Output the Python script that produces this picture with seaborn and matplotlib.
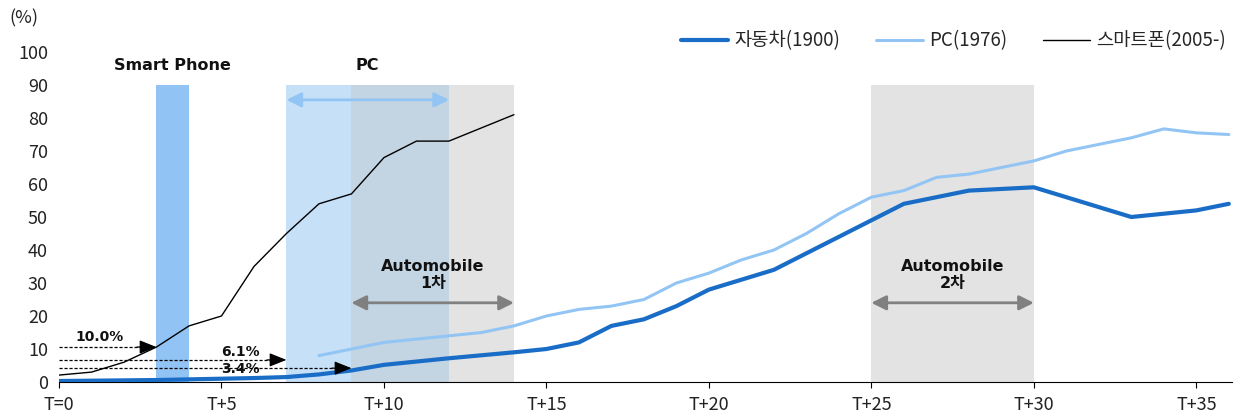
import numpy as np
import pandas as pd
import matplotlib
matplotlib.use("Agg")
import matplotlib.pyplot as plt
import seaborn as sns

# data (x = years after introduction, y = %)
car_t = list(range(0, 37))
car_val = [0.3, 0.4, 0.5, 0.6, 0.8, 1.0, 1.2, 1.5, 2.3, 3.5, 5.2, 6.2, 7.2, 8.1, 9.0, 10.0,
           12.0, 17.0, 19.0, 23.0, 28.0, 31.0, 34.0, 39.0, 44.0, 49.0, 54.0, 56.0, 58.0,
           58.5, 59.0, 56.0, 53.0, 50.0, 51.0, 52.0, 54.0]
pc_t = list(range(8, 37))
pc_val = [8.0, 10.0, 12.0, 13.0, 14.0, 15.0, 17.0, 20.0, 22.0, 23.0, 25.0, 30.0, 33.0, 37.0,
          40.0, 45.0, 51.0, 56.0, 58.0, 62.0, 63.0, 65.0, 67.0, 70.0, 72.0, 74.0, 76.7, 75.5, 75.0]
phone_t = list(range(0, 15))
phone_val = [2.1, 3.0, 6.0, 10.6, 17.0, 20.0, 35.0, 45.0, 54.0, 57.0, 68.0, 73.0, 73.0, 77.0, 81.0]

series_names = ["자동차(1900)", "PC(1976)", "스마트폰(2005-)"]
x_ticks = [0, 5, 10, 15, 20, 25, 30, 35]
x_labels = ["T=0", "T+5", "T+10", "T+15", "T+20", "T+25", "T+30", "T+35"]

# reference lines for how far each product had spread
ref_levels = [10.6, 6.7, 4.2]
ref_ends = [3, 7, 9]
ref_labels = ["10.0%", "6.1%", "3.4%"]

df = pd.concat([
    pd.DataFrame({"t": car_t, "v": car_val, "s": series_names[0]}),
    pd.DataFrame({"t": pc_t, "v": pc_val, "s": series_names[1]}),
    pd.DataFrame({"t": phone_t, "v": phone_val, "s": series_names[2]}),
])

sns.set_style("white")
plt.rcParams['font.family'] = ['Noto Sans CJK KR', 'DejaVu Sans']

fig = plt.figure(figsize=(12.42, 4.16), dpi=100)
ax = fig.add_axes([0.0475, 0.0817, 0.9445, 0.7933])

# shaded periods
ax.fill_between([3, 4], 0, 90, color="#91c4f5", lw=0, zorder=0)
ax.fill_between([7, 9], 0, 90, color="#c6e0f8", lw=0, zorder=0)
ax.fill_between([9, 12], 0, 90, color="#c3d4e2", lw=0, zorder=0)
ax.fill_between([12, 14], 0, 90, color="#e3e3e3", lw=0, zorder=0)
ax.fill_between([25, 30], 0, 90, color="#e3e3e3", lw=0, zorder=0)

palette = {series_names[0]: "#1a6dc6", series_names[1]: "#93c5f4", series_names[2]: "black"}
sizes = {series_names[0]: 3.0, series_names[1]: 2.2, series_names[2]: 1.0}
sns.lineplot(data=df, x="t", y="v", hue="s", size="s", sizes=sizes, palette=palette,
             hue_order=series_names, size_order=series_names, ax=ax, zorder=3)

# period arrows
def double_arrow(x0, x1, y, color):
    ax.annotate("", xy=(x0, y), xytext=(x1, y),
                arrowprops=dict(arrowstyle="<|-|>", color=color, lw=2,
                                mutation_scale=22, shrinkA=0, shrinkB=0), zorder=4)

double_arrow(7, 12, 85.5, "#93c5f4")
double_arrow(9, 14, 24, "#808080")
double_arrow(25, 30, 24, "#808080")

bold = dict(fontweight="bold", fontsize=11.5, ha="center", color="#111111",
            family=["DejaVu Sans", "Noto Sans CJK KR"])
ax.text(3.5, 94.5, "Smart Phone", **bold)
ax.text(9.5, 94.5, "PC", **bold)
ax.text(11.5, 28.5, "Automobile\n1차", linespacing=1.2, **bold)
ax.text(27.5, 28.5, "Automobile\n2차", linespacing=1.2, **bold)

# dashed reference arrows
for lvl, end in zip(ref_levels, ref_ends):
    ax.plot([0, end - 0.5], [lvl, lvl], ls=(0, (2.5, 1.5)), color="black", lw=0.9, zorder=5)
    ax.annotate("", xy=(end, lvl), xytext=(end - 0.6, lvl),
                arrowprops=dict(arrowstyle="-|>,head_length=0.55,head_width=0.22", color="black",
                                lw=0.9, mutation_scale=19, shrinkA=0, shrinkB=0), zorder=5)
pct = dict(fontweight="bold", fontsize=10, family="DejaVu Sans", color="#111111")
ax.text(0.5, 12.3, ref_labels[0], **pct)
ax.text(5.0, 7.8, ref_labels[1], **pct)
ax.text(5.0, 2.6, ref_labels[2], **pct)

ax.set_xlim(0, 36.1)
ax.set_ylim(0, 100)
ax.set_xticks(x_ticks)
ax.set_xticklabels(x_labels)
ax.set_yticks(range(0, 101, 10))
ax.tick_params(axis="x", length=4, width=0.8, color="black", labelsize=13, pad=6, bottom=True,
               labelcolor="#222222")
ax.tick_params(axis="y", length=0, labelsize=13, pad=8, labelcolor="#222222")
ax.set_xlabel("")
ax.set_ylabel("")
for side in ["top", "right", "left"]:
    ax.spines[side].set_visible(False)
ax.spines["bottom"].set_color("black")
ax.spines["bottom"].set_linewidth(0.8)
ax.text(-0.03, 1.103, "(%)", transform=ax.transAxes, fontsize=13, ha="center", va="center",
        color="#222222")

handles, labels = ax.get_legend_handles_labels()
ax.legend(handles, labels, loc="center right", bbox_to_anchor=(0.995, 1.033), ncol=3,
          frameon=False, fontsize=13.5, handlelength=2.5, columnspacing=1.9, handletextpad=0.35,
          borderaxespad=0, borderpad=0)

fig.savefig("out.png", dpi=100)
